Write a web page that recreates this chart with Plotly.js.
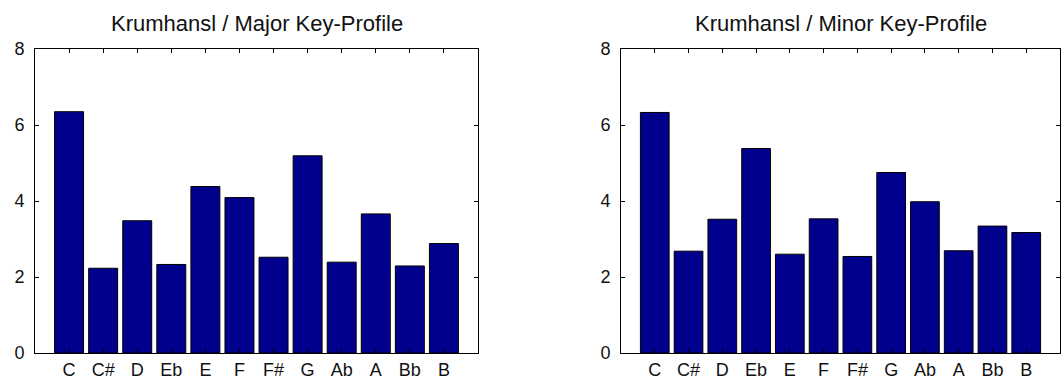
<!DOCTYPE html>
<html><head><meta charset="utf-8">
<script src="https://cdn.plot.ly/plotly-3.0.1.min.js"></script>
<style>html,body{margin:0;padding:0;background:#fff}#c{width:1063px;height:381px}</style>
</head><body><div id="c"></div>
<script>
const keys = ["C","C#","D","Eb","E","F","F#","G","Ab","A","Bb","B"];
const majorProfile = [6.35,2.23,3.48,2.33,4.38,4.09,2.52,5.19,2.39,3.66,2.29,2.88];
const minorProfile = [6.33,2.68,3.52,5.38,2.60,3.53,2.54,4.75,3.98,2.69,3.34,3.17];
const titles = ["Krumhansl / Major Key-Profile","Krumhansl / Minor Key-Profile"];
const yTicks = [0,2,4,6,8];

const W = 1063, H = 381;
const barStyle = {color:"#00008C", line:{color:"#000", width:1}};
const font = {family:"Liberation Sans, Arial, sans-serif", size:18, color:"#111"};
const titleFont = {family:"Liberation Sans, Arial, sans-serif", size:22, color:"#111"};

function xa(dom){
  return {domain:dom, type:"category", categoryorder:"array", categoryarray:keys,
    range:[-1,12], showline:true, linecolor:"#000", linewidth:1, mirror:"ticks",
    ticks:"inside", ticklen:4, tickcolor:"#000", showgrid:false, zeroline:false,
    tickfont:font, fixedrange:true};
}
function ya(){
  return {domain:[1-353/H, 1-49/H], range:[0,8], tickvals:yTicks, showline:true,
    linecolor:"#000", linewidth:1, mirror:"ticks", ticks:"inside", ticklen:4,
    tickcolor:"#000", showgrid:false, zeroline:false, tickfont:font, fixedrange:true,
    ticklabelstandoff:6};
}
const d1 = [35/W, 478/W], d2 = [621/W, 1060/W];
const traces = [
  {type:"bar", x:keys, y:majorProfile, width:0.85, marker:barStyle, xaxis:"x", yaxis:"y", hoverinfo:"skip"},
  {type:"bar", x:keys, y:minorProfile, width:0.85, marker:barStyle, xaxis:"x2", yaxis:"y2", hoverinfo:"skip"}
];
const layout = {
  width:W, height:H, margin:{l:0,r:0,t:0,b:0}, showlegend:false,
  paper_bgcolor:"#fff", plot_bgcolor:"#fff", font:font,
  xaxis:xa(d1), yaxis:ya(), xaxis2:xa(d2), yaxis2:Object.assign(ya(),{anchor:"x2"}),
  annotations:[
    {text:titles[0], xref:"paper", yref:"paper", x:(d1[0]+d1[1])/2, y:1-23/H, showarrow:false, font:titleFont, xanchor:"center", yanchor:"middle"},
    {text:titles[1], xref:"paper", yref:"paper", x:(d2[0]+d2[1])/2, y:1-23/H, showarrow:false, font:titleFont, xanchor:"center", yanchor:"middle"}
  ]
};
layout.xaxis.anchor = "y";
layout.xaxis2.anchor = "y2";
Plotly.newPlot("c", traces, layout, {displayModeBar:false, staticPlot:true});
</script></body></html>
